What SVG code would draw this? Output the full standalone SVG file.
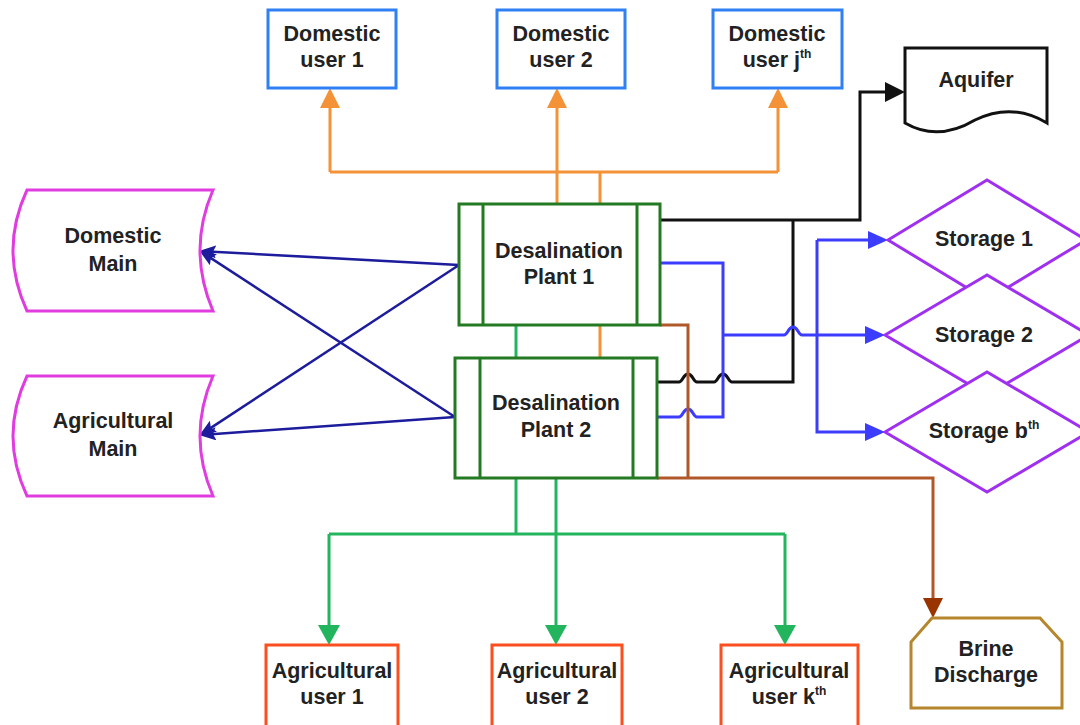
<svg xmlns="http://www.w3.org/2000/svg" width="1080" height="725" viewBox="0 0 1080 725">
  <style>
    text { font-family: "Liberation Sans", Arial, sans-serif; font-weight: bold; font-size: 21.5px; fill: #222; text-anchor: middle; }
    .sup { font-size: 12px; }
    .node { fill: #fff; stroke-width: 3; }
    .dom { stroke: #2f80f5; }
    .agr { stroke: #fb4f1f; }
    .main { stroke: #e03ce0; }
    .plant { stroke: #237a23; }
    .store { stroke: #a030f0; }
    .aqui { stroke: #111; }
    .brine { stroke: #b5862d; }
    .wire { fill: none; stroke-width: 3; stroke-linejoin: miter; }
    .orange { stroke: #f39237; }
    .green { stroke: #22b55e; }
    .black { stroke: #111; }
    .blue { stroke: #3c3cff; }
    .brown { stroke: #b0582a; }
    .navy { stroke: #1c1c9c; stroke-width: 2.5; }
  </style>
  <defs>
    <marker id="ah-orange" markerUnits="userSpaceOnUse" markerWidth="20" markerHeight="20" refX="10" refY="10" orient="auto">
      <path d="M0,0 L20,10 L0,20 Z" fill="#f39237"/>
    </marker>
    <marker id="ah-green" markerUnits="userSpaceOnUse" markerWidth="20" markerHeight="22" refX="10" refY="11" orient="auto">
      <path d="M0,0 L20,11 L0,22 Z" fill="#22b55e"/>
    </marker>
    <marker id="ah-black" markerUnits="userSpaceOnUse" markerWidth="20" markerHeight="20" refX="10" refY="10" orient="auto">
      <path d="M0,0 L20,10 L0,20 Z" fill="#111"/>
    </marker>
    <marker id="ah-blue" markerUnits="userSpaceOnUse" markerWidth="20" markerHeight="18" refX="10" refY="9" orient="auto">
      <path d="M0,0 L20,9 L0,18 Z" fill="#3c3cff"/>
    </marker>
    <marker id="ah-brown" markerUnits="userSpaceOnUse" markerWidth="20" markerHeight="20" refX="10" refY="10" orient="auto">
      <path d="M0,0 L20,10 L0,20 Z" fill="#993300"/>
    </marker>
    <marker id="ah-navy" markerUnits="userSpaceOnUse" markerWidth="17" markerHeight="13" refX="8" refY="6.5" orient="auto">
      <path d="M0,0 L17,6.5 L0,13 L3,6.5 Z" fill="#1c1c9c"/>
    </marker>
  </defs>

  <!-- connectors -->
  <g id="connectors">
    <!-- drinking water to domestic users -->
    <path class="wire orange" d="M330,172 H778"/>
    <path class="wire orange" d="M330,172 V98" marker-end="url(#ah-orange)"/>
    <path class="wire orange" d="M557,205 V98" marker-end="url(#ah-orange)"/>
    <path class="wire orange" d="M778,172 V98" marker-end="url(#ah-orange)"/>
    <path class="wire orange" d="M600,205 V172"/>
    <path class="wire orange" d="M600,325 V358"/>

    <!-- irrigation water to agricultural users -->
    <path class="wire green" d="M516,325 V358"/>
    <path class="wire green" d="M516,478 V534"/>
    <path class="wire green" d="M329,534 H785"/>
    <path class="wire green" d="M329,534 V635" marker-end="url(#ah-green)"/>
    <path class="wire green" d="M556,478 V635" marker-end="url(#ah-green)"/>
    <path class="wire green" d="M785,534 V635" marker-end="url(#ah-green)"/>

    <!-- aquifer recharge -->
    <path class="wire black" d="M660,220 H860 V92 H895" marker-end="url(#ah-black)"/>
    <path class="wire black" d="M793,220 V382 H732 C728,382 728,374 723,374 C718,374 718,382 714,382 H697 C693,382 693,374 688,374 C683,374 683,382 679,382 H657"/>

    <!-- storage supply -->
    <path class="wire blue" d="M660,263 H723 V417 H697 C693,417 693,409 688,409 C683,409 683,417 679,417 H657"/>
    <path class="wire blue" d="M723,335 H784 C788,335 788,327 793,327 C798,327 798,335 802,335 H875" marker-end="url(#ah-blue)"/>
    <path class="wire blue" d="M817,240 H878" marker-end="url(#ah-blue)"/>
    <path class="wire blue" d="M817,240 V432 H875" marker-end="url(#ah-blue)"/>

    <!-- brine -->
    <path class="wire brown" d="M660,325 H688 V478"/>
    <path class="wire brown" d="M657,478 H933 V608" marker-end="url(#ah-brown)"/>

    <!-- plants to mains -->
    <path class="wire navy" d="M459,265 L208,251.4" marker-end="url(#ah-navy)"/>
    <path class="wire navy" d="M459,265 L206.7,430.6" marker-end="url(#ah-navy)"/>
    <path class="wire navy" d="M455,417 L206.7,255.4" marker-end="url(#ah-navy)"/>
    <path class="wire navy" d="M455,417 L208,434.4" marker-end="url(#ah-navy)"/>
  </g>

  <!-- domestic users -->
  <g id="domestic-user-1">
    <rect class="node dom" x="268" y="10" width="128" height="78"/>
    <text x="332" y="41">Domestic</text>
    <text x="332" y="67">user 1</text>
  </g>
  <g id="domestic-user-2">
    <rect class="node dom" x="497" y="10" width="128" height="78"/>
    <text x="561" y="41">Domestic</text>
    <text x="561" y="67">user 2</text>
  </g>
  <g id="domestic-user-j">
    <rect class="node dom" x="713" y="10" width="129" height="78"/>
    <text x="777" y="41">Domestic</text>
    <text x="777" y="67">user j<tspan class="sup" dy="-9">th</tspan></text>
  </g>

  <g id="aquifer">
    <path class="node aqui" d="M905,48 H1047 V123 Q1012,102 975,120 Q938,142 905,123 Z"/>
    <text x="976" y="87">Aquifer</text>
  </g>

  <g id="domestic-main">
    <path class="node main" d="M27,190 H213 Q187,250 213,311 H27 Q-1,250 27,190 Z"/>
    <text x="113" y="243">Domestic</text>
    <text x="113" y="271">Main</text>
  </g>
  <g id="agricultural-main">
    <path class="node main" d="M27,376 H213 Q187,436 213,496 H27 Q-1,436 27,376 Z"/>
    <text x="113" y="428">Agricultural</text>
    <text x="113" y="456">Main</text>
  </g>

  <g id="desalination-plant-1">
    <rect class="node plant" x="459" y="204" width="201" height="121"/>
    <path class="node plant" d="M483,204 V325 M637,204 V325"/>
    <text x="559" y="258">Desalination</text>
    <text x="559" y="284">Plant 1</text>
  </g>
  <g id="desalination-plant-2">
    <rect class="node plant" x="455" y="358" width="202" height="120"/>
    <path class="node plant" d="M480,358 V478 M633,358 V478"/>
    <text x="556" y="410">Desalination</text>
    <text x="556" y="437">Plant 2</text>
  </g>

  <g id="storage-1">
    <polygon class="node store" points="888,240 987,180 1086,240 987,300"/>
    <text x="984" y="246">Storage 1</text>
  </g>
  <g id="storage-2">
    <polygon class="node store" points="885,335 987,275 1089,335 987,395"/>
    <text x="984" y="342">Storage 2</text>
  </g>
  <g id="storage-b">
    <polygon class="node store" points="885,432 987,372 1089,432 987,492"/>
    <text x="984" y="438">Storage b<tspan class="sup" dy="-9">th</tspan></text>
  </g>

  <g id="brine-discharge">
    <path class="node brine" d="M932,618 H1040 L1062,642 V708 H911 V642 Z"/>
    <text x="986" y="656">Brine</text>
    <text x="986" y="682">Discharge</text>
  </g>

  <g id="agricultural-user-1">
    <rect class="node agr" x="266" y="645" width="132" height="82"/>
    <text x="332" y="678">Agricultural</text>
    <text x="332" y="704">user 1</text>
  </g>
  <g id="agricultural-user-2">
    <rect class="node agr" x="492" y="645" width="130" height="82"/>
    <text x="557" y="678">Agricultural</text>
    <text x="557" y="704">user 2</text>
  </g>
  <g id="agricultural-user-k">
    <rect class="node agr" x="721" y="645" width="137" height="82"/>
    <text x="789" y="678">Agricultural</text>
    <text x="789" y="704">user k<tspan class="sup" dy="-9">th</tspan></text>
  </g>
</svg>
